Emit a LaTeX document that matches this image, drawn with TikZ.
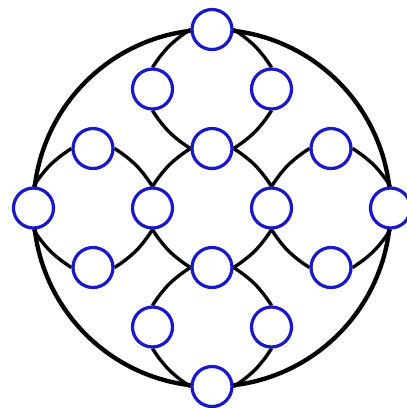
\documentclass[tikz,border=0pt]{standalone}
\usetikzlibrary{backgrounds}
\definecolor{nodeblue}{RGB}{25,25,200}
\begin{document}
\begin{tikzpicture}[x=1.4875cm,y=1.4875cm,
  vtx/.style={circle,draw=nodeblue,line width=2.3pt,fill=white,minimum size=1cm,inner sep=0pt},
  link/.style={line width=2.4pt,black,bend left=12},
  rim/.style={line width=3.1pt,black}]
\useasboundingbox (-3.563,-3.361) rectangle (3.261,3.496);
% top group
\node[vtx] (t0) at (0,3) {};
\node[vtx] (tl) at (-1,2) {};
\node[vtx] (tr) at (1,2) {};
% central group
\node[vtx] (cn) at (0,1) {};
\node[vtx] (cw) at (-1,0) {};
\node[vtx] (ce) at (1,0) {};
\node[vtx] (cs) at (0,-1) {};
% left group
\node[vtx] (l0) at (-3,0) {};
\node[vtx] (lu) at (-2,1) {};
\node[vtx] (ld) at (-2,-1) {};
% right group
\node[vtx] (r0) at (3,0) {};
\node[vtx] (ru) at (2,1) {};
\node[vtx] (rd) at (2,-1) {};
% bottom group
\node[vtx] (b0) at (0,-3) {};
\node[vtx] (bl) at (-1,-2) {};
\node[vtx] (br) at (1,-2) {};
\begin{scope}[on background layer]
  % top group
  \draw[link] (t0.east) to (tr.north);
  \draw[link] (tr.south) to (cn.east);
  \draw[link] (cn.west) to (tl.south);
  \draw[link] (tl.north) to (t0.west);
  % central group
  \draw[link] (cn.east) to (ce.north);
  \draw[link] (ce.south) to (cs.east);
  \draw[link] (cs.west) to (cw.south);
  \draw[link] (cw.north) to (cn.west);
  % left group
  \draw[link] (lu.east) to (cw.north);
  \draw[link] (cw.south) to (ld.east);
  \draw[link] (ld.west) to (l0.south);
  \draw[link] (l0.north) to (lu.west);
  % right group
  \draw[link] (ru.east) to (r0.north);
  \draw[link] (r0.south) to (rd.east);
  \draw[link] (rd.west) to (ce.south);
  \draw[link] (ce.north) to (ru.west);
  % bottom group
  \draw[link] (cs.east) to (br.north);
  \draw[link] (br.south) to (b0.east);
  \draw[link] (b0.west) to (bl.south);
  \draw[link] (bl.north) to (cs.west);
  % outer ring
  \draw[rim] (t0.center) to[bend left=45] (r0.center) to[bend left=45] (b0.center)
             to[bend left=45] (l0.center) to[bend left=45] (t0.center);
\end{scope}
\end{tikzpicture}
\end{document}
